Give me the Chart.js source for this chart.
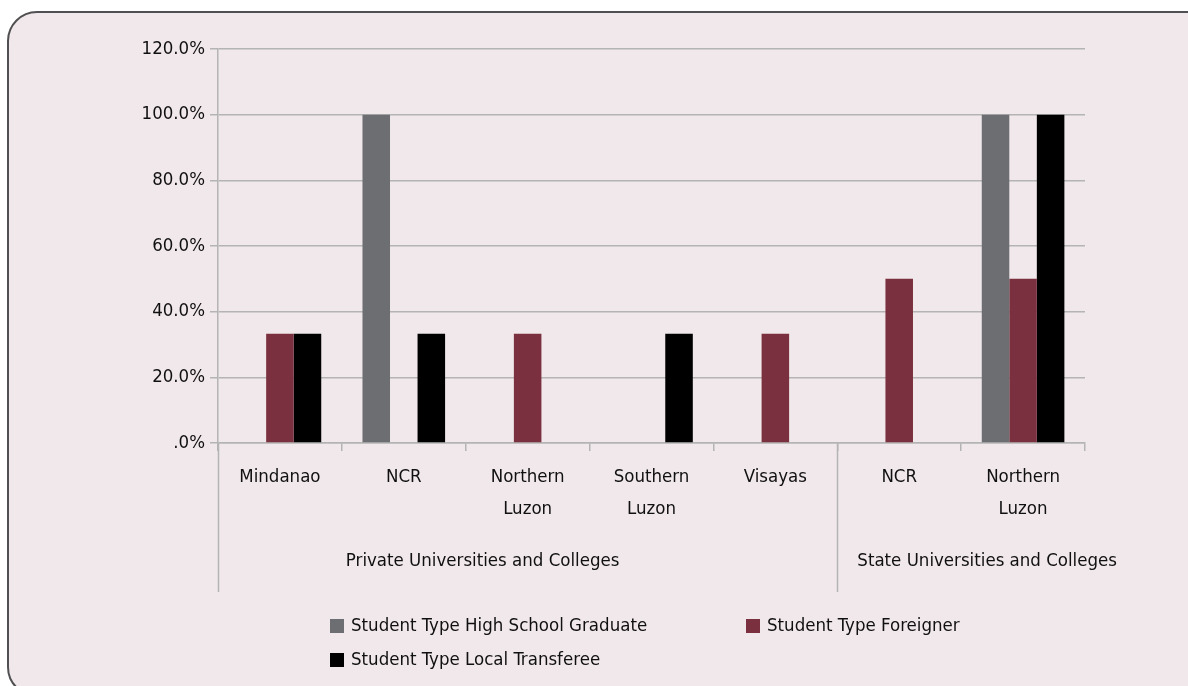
<!DOCTYPE html>
<html>
<head>
<meta charset="utf-8">
<script src="https://cdn.jsdelivr.net/npm/chart.js@4.4.1/dist/chart.umd.min.js"></script>
<style>
  html, body { margin: 0; padding: 0; background: #fff; overflow: hidden; }
  #frame {
    position: absolute; left: 7px; top: 11px; width: 1230px; height: 682px;
    background: #f1e8eb; border: 2px solid #505052; border-radius: 30px;
  }
  #wrap { position: absolute; left: 0; top: 0; width: 1188px; height: 686px; }
</style>
</head>
<body>
<div id="frame"></div>
<div id="wrap"><canvas id="chart" width="1188" height="686"></canvas></div>
<script>
// regions on the x axis, grouped by institution type
const regions = ['Mindanao', 'NCR', ['Northern', 'Luzon'], ['Southern', 'Luzon'], 'Visayas', 'NCR', ['Northern', 'Luzon']];
const groupNames = ['Private Universities and Colleges', 'State Universities and Colleges'];
const groupSizes = [5, 2];

// share of each student type (0..1), null where there is no bar
const highSchoolGrad = [null, 1.0, null, null, null, null, 1.0];
const foreigner = [0.333, null, 0.333, null, 0.333, 0.5, 0.5];
const localTransferee = [0.333, 0.333, null, 0.333, null, null, 1.0];

const yTicks = [0, 0.2, 0.4, 0.6, 0.8, 1.0, 1.2];

const FONT = "'Liberation Sans Narrow', 'DejaVu Sans Condensed', 'Roboto', sans-serif";
const FONT_SIZE = 18.5;
const TEXT = '#111011';
const LINE = '#b4b4b4';

// group captions + separators under the category labels, and a two-column legend
const groupAxisPlugin = {
  id: 'groupAxis',
  afterDraw(chart, args, opts) {
    const { ctx } = chart;
    const xs = chart.scales.x;
    const bottom = chart.chartArea.bottom;
    const step = xs.width / regions.length;
    ctx.save();
    ctx.strokeStyle = LINE;
    ctx.lineWidth = 1.5;
    ctx.fillStyle = TEXT;
    ctx.font = `${FONT_SIZE}px ${FONT}`;
    ctx.textAlign = 'center';
    ctx.textBaseline = 'middle';
    let start = 0;
    groupSizes.forEach((n, i) => {
      const left = xs.getPixelForTick(start) - step / 2;
      const right = xs.getPixelForTick(start + n - 1) + step / 2;
      ctx.beginPath();
      ctx.moveTo(Math.round(left) + 0.5, bottom);
      ctx.lineTo(Math.round(left) + 0.5, opts.sepBottom);
      ctx.stroke();
      ctx.fillText(groupNames[i], (left + right) / 2 + opts.captionShift[i], opts.captionY);
      start += n;
    });

    // legend
    chart.data.datasets.forEach((ds, i) => {
      const pos = opts.legend[i];
      ctx.fillStyle = ds.backgroundColor;
      ctx.fillRect(pos.x, pos.y - 7, 14, 14);
      ctx.fillStyle = TEXT;
      ctx.textAlign = 'left';
      ctx.fillText(ds.label, pos.x + 21, pos.y);
    });
    ctx.restore();
  },
};

new Chart(document.getElementById('chart'), {
  type: 'bar',
  data: {
    labels: regions,
    datasets: [
      { label: 'Student Type High School Graduate', data: highSchoolGrad, backgroundColor: '#6d6e71' },
      { label: 'Student Type Foreigner', data: foreigner, backgroundColor: '#7a303e' },
      { label: 'Student Type Local Transferee', data: localTransferee, backgroundColor: '#000000' },
    ],
  },
  options: {
    responsive: false,
    animation: false,
    layout: { padding: { top: 49, right: 103, bottom: 0, left: 0 } },
    datasets: { bar: { barPercentage: 1.0, categoryPercentage: 0.667 } },
    scales: {
      x: {
        offset: true,
        grid: { offset: true, drawOnChartArea: false, tickLength: 8, color: LINE, lineWidth: 1.5 },
        border: { color: LINE, width: 1.5 },
        ticks: {
          color: TEXT, autoSkip: false, maxRotation: 0, padding: 10,
          font: { family: FONT, size: FONT_SIZE, lineHeight: 1.72 },
        },
        afterFit(scale) { scale.height = 243; },
      },
      y: {
        min: 0,
        max: 1.2,
        afterBuildTicks(scale) { scale.ticks = yTicks.map((v) => ({ value: v })); },
        grid: { color: LINE, lineWidth: 1.5, tickLength: 8 },
        border: { color: LINE, width: 1.5 },
        ticks: {
          color: TEXT, padding: 5,
          font: { family: FONT, size: FONT_SIZE },
          callback(v) { return v === 0 ? '.0%' : `${(v * 100).toFixed(1)}%`; },
        },
        afterFit(scale) { scale.width = 218; },
      },
    },
    plugins: {
      legend: { display: false },
      tooltip: { enabled: false },
      groupAxis: {
        captionY: 561,
        captionShift: [-45, 26],
        sepBottom: 592,
        legend: [{ x: 330, y: 626 }, { x: 746, y: 626 }, { x: 330, y: 660 }],
      },
    },
  },
  plugins: [groupAxisPlugin],
});
</script>
</body>
</html>
